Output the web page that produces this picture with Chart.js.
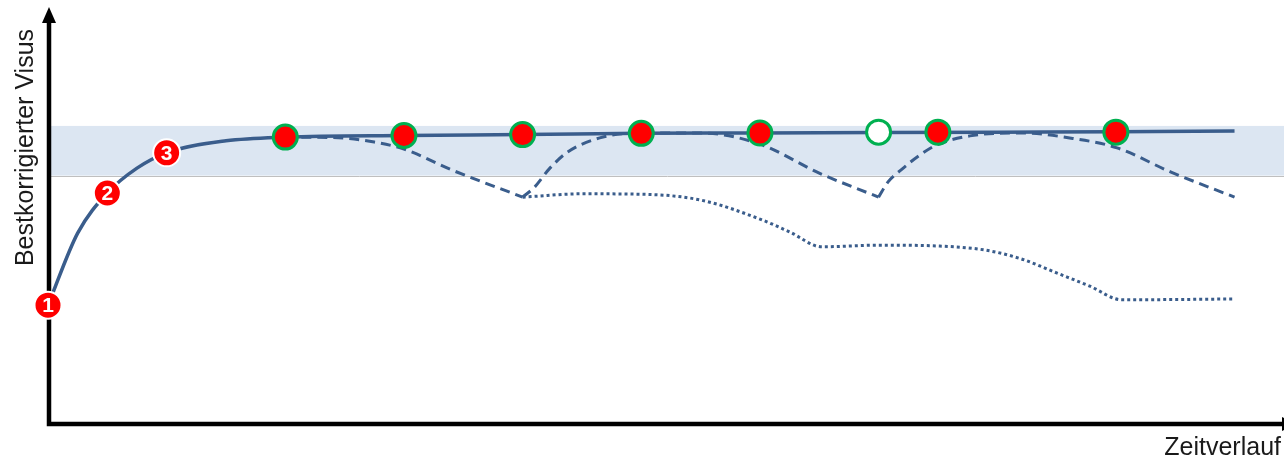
<!DOCTYPE html>
<html><head><meta charset="utf-8">
<script src="https://cdn.jsdelivr.net/npm/chart.js@4.4.1/dist/chart.umd.min.js"></script>
<style>html,body{margin:0;padding:0;background:#fff;}#wrap{width:1284px;height:457px;}</style>
</head><body><div id="wrap"><canvas id="c" width="1284" height="457"></canvas></div>
<script>
// ---- data (time in visit intervals, visual acuity as decimal) ----
const yAxisLabel = 'Bestkorrigierter Visus';
const xAxisLabel = 'Zeitverlauf';
const bandRange = [0.60, 0.72];

const solidT = [0, 0.25, 0.5, 0.75, 1, 1.5, 2, 3, 4, 5, 6, 7, 8, 9, 10];
const solidV = [0.287, 0.461, 0.558, 0.618, 0.655, 0.684, 0.693, 0.697, 0.699, 0.702, 0.703, 0.704, 0.705, 0.706, 0.708];

const dashAT = [2, 2.4, 2.75, 3, 3.4, 4];
const dashAV = [0.693, 0.692, 0.681, 0.664, 0.614, 0.548];
const dashBT = [4, 4.1, 4.23, 4.38, 4.65, 5, 5.5, 6, 6.5, 7];
const dashBV = [0.548, 0.572, 0.618, 0.657, 0.691, 0.703, 0.703, 0.676, 0.606, 0.548];
const dashCT = [7, 7.08, 7.19, 7.35, 7.49, 7.77, 8.2, 8.61, 9.01, 9.46, 10];
const dashCV = [0.548, 0.585, 0.614, 0.650, 0.674, 0.696, 0.703, 0.691, 0.667, 0.609, 0.548];

const dotT = [4, 4.5, 5, 5.5, 6, 6.25, 6.52, 7, 7.5, 7.9, 8.2, 8.5, 8.78, 9.05, 10];
const dotV = [0.548, 0.556, 0.555, 0.541, 0.495, 0.464, 0.428, 0.432, 0.430, 0.420, 0.399, 0.365, 0.333, 0.300, 0.302];

const numT = [0, 0.5, 1];
const numV = [0.287, 0.558, 0.655];
const numLabels = ['1', '2', '3'];

const visitT = [2, 3, 4, 5, 6, 7, 7.5, 9];
const visitV = [0.693, 0.697, 0.699, 0.702, 0.703, 0.705, 0.705, 0.705];
const visitTreated = [true, true, true, true, true, false, true, true];

const pts = (t, v) => t.map((x, i) => ({x, y: v[i]}));
const LINE = '#3a5d8c';

const decor = {
  id: 'decor',
  beforeDatasetsDraw(chart) {
    const {ctx, chartArea: a, scales: {x, y}} = chart;
    const W = chart.width;
    const yT = y.getPixelForValue(bandRange[1]);
    const yB = y.getPixelForValue(bandRange[0]);
    const ax = a.left + 1, ay = y.getPixelForValue(0);
    ctx.save();
    ctx.fillStyle = '#dce6f2';
    ctx.fillRect(ax + 2, yT, W - ax - 2, yB - yT);
    ctx.strokeStyle = '#bfbfbf'; ctx.lineWidth = 1;
    ctx.beginPath(); ctx.moveTo(ax + 2, Math.round(yB) + 0.5); ctx.lineTo(W, Math.round(yB) + 0.5); ctx.stroke();
    // axes
    ctx.strokeStyle = '#000'; ctx.fillStyle = '#000';
    ctx.lineWidth = 4.5; ctx.lineJoin = 'miter';
    ctx.beginPath(); ctx.moveTo(ax, 22); ctx.lineTo(ax, ay); ctx.lineTo(W - 2, ay); ctx.stroke();
    ctx.beginPath(); ctx.moveTo(ax, 7); ctx.lineTo(ax - 7, 23); ctx.lineTo(ax + 7, 23); ctx.closePath(); ctx.fill();
    ctx.beginPath(); ctx.moveTo(W + 13, ay); ctx.lineTo(W - 2, ay - 7); ctx.lineTo(W - 2, ay + 7); ctx.closePath(); ctx.fill();
    ctx.restore();
  },
  afterDatasetsDraw(chart) {
    const {ctx} = chart;
    const meta = chart.getDatasetMeta(0);
    ctx.save();
    ctx.fillStyle = '#fff';
    ctx.font = 'bold 21px "Liberation Sans", Arial, sans-serif';
    ctx.textAlign = 'center'; ctx.textBaseline = 'middle';
    meta.data.forEach((p, i) => ctx.fillText(numLabels[i], p.x, p.y + 1));
    // axis labels
    ctx.fillStyle = '#1a1a1a';
    ctx.font = '25px "Liberation Sans", Arial, sans-serif';
    ctx.textAlign = 'right'; ctx.textBaseline = 'alphabetic';
    ctx.fillText(xAxisLabel, 1281, 455);
    ctx.translate(33, 147.5); ctx.rotate(-Math.PI / 2);
    ctx.textAlign = 'center';
    ctx.fillText(yAxisLabel, 0, 0);
    ctx.restore();
  }
};

const lineDs = (t, v, dash, w) => ({
  data: pts(t, v), showLine: true, pointRadius: 0, borderColor: LINE, borderWidth: w,
  borderDash: dash, borderCapStyle: 'butt', cubicInterpolationMode: 'monotone', order: 2, clip: false
});

new Chart(document.getElementById('c'), {
  type: 'scatter',
  data: {
    datasets: [
      {data: pts(numT, numV), pointRadius: 13.5, pointBackgroundColor: '#ff0000', pointBorderColor: '#ffffff',
       pointBorderWidth: 2, showLine: false, order: 0, clip: false},
      {data: pts(visitT, visitV), pointRadius: 12,
       pointBackgroundColor: visitTreated.map(d => d ? '#ff0000' : '#ffffff'),
       pointBorderColor: '#00b050', pointBorderWidth: 3, showLine: false, order: 1, clip: false},
      lineDs(solidT, solidV, [], 3.5),
      lineDs(dashAT, dashAV, [10, 6], 3),
      lineDs(dashBT, dashBV, [10, 6], 3),
      lineDs(dashCT, dashCV, [10, 6], 3),
      lineDs(dotT, dotV, [3, 3], 3)
    ]
  },
  options: {
    responsive: false, animation: false,
    layout: {autoPadding: false, padding: {left: 48, right: 2, top: 10, bottom: 33}},
    scales: {
      x: {type: 'linear', min: 0, max: 10.4, display: false},
      y: {type: 'linear', min: 0, max: 1, display: false}
    },
    plugins: {legend: {display: false}, tooltip: {enabled: false}},
    events: []
  },
  plugins: [decor]
});
</script>
</body></html>
